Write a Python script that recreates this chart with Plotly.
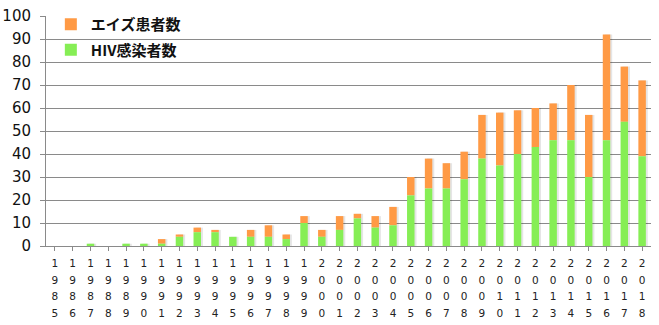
import plotly.graph_objects as go

years = list(range(1985, 2019))
hiv = [0, 0, 1, 0, 1, 1, 1, 4, 6, 6, 4, 4, 4, 3, 10, 4, 7, 12, 8, 9,
       22, 25, 25, 29, 38, 35, 40, 43, 46, 46, 30, 46, 54, 39]
aids = [0, 0, 0, 0, 0, 0, 2, 1, 2, 1, 0, 3, 5, 2, 3, 3, 6, 2, 5, 8,
        8, 13, 11, 12, 19, 23, 19, 17, 16, 24, 27, 46, 24, 33]
totals = [h + a for h, a in zip(hiv, aids)]

# each year label is written one digit per line
tick_text = ["<br>".join(f"<span style='font-size:10.5px'>{c}</span>" for c in str(y))
             for y in years]

BAR_W = 0.42
OFF = -BAR_W / 2

fig = go.Figure()

# soft drop shadow behind every column
fig.add_trace(go.Bar(
    x=years, y=totals, base=0, width=BAR_W, offset=OFF + 0.11,
    marker=dict(color="rgba(0,0,0,0.10)", line=dict(width=0)),
    showlegend=False, hoverinfo="skip"))

fig.add_trace(go.Bar(
    x=years, y=aids, base=hiv, width=BAR_W, offset=OFF, name="エイズ患者数",
    legendgroup="aids",
    marker=dict(color="#ff9a45", line=dict(width=0))))

fig.add_trace(go.Bar(
    x=years, y=hiv, base=0, width=BAR_W, offset=OFF, name="HIV感染者数",
    legendgroup="hiv",
    marker=dict(color="#86ee55", line=dict(width=0))))

fig.update_layout(
    width=659, height=325,
    margin=dict(l=46, r=8, t=11, b=79),
    barmode="overlay",
    plot_bgcolor="white", paper_bgcolor="white",
    font=dict(family="DejaVu Sans", color="#111111"),
    legend=dict(
        x=0.008, y=1.035, xanchor="left", yanchor="top",
        bgcolor="rgba(0,0,0,0)", borderwidth=0,
        font=dict(family="Noto Sans CJK JP", size=15, color="#111111", weight="bold"),
        traceorder="grouped", tracegroupgap=3,
    ),
    showlegend=True,
)

fig.update_xaxes(
    tickmode="array", tickvals=years, ticktext=tick_text,
    tickfont=dict(family="DejaVu Sans", size=13, color="#222222"),
    tickangle=0,
    range=[1984.5, 2018.5],
    showgrid=False,
    showline=True, linecolor="#8a8a8a", linewidth=1,
    ticks="outside", tickson="boundaries", ticklen=4, tickcolor="#8a8a8a",
    ticklabelstandoff=0,
    automargin=False,
)

fig.update_yaxes(
    range=[0, 100], dtick=10,
    tickfont=dict(family="DejaVu Sans", size=15, color="#111111"),
    showgrid=True, gridcolor="#8a8a8a", gridwidth=1,
    showline=True, linecolor="#8a8a8a", linewidth=1,
    ticks="outside", ticklen=5, tickcolor="#8a8a8a",
    ticklabelstandoff=6,
    zeroline=False,
    automargin=False,
)

fig.write_html("out.html")
